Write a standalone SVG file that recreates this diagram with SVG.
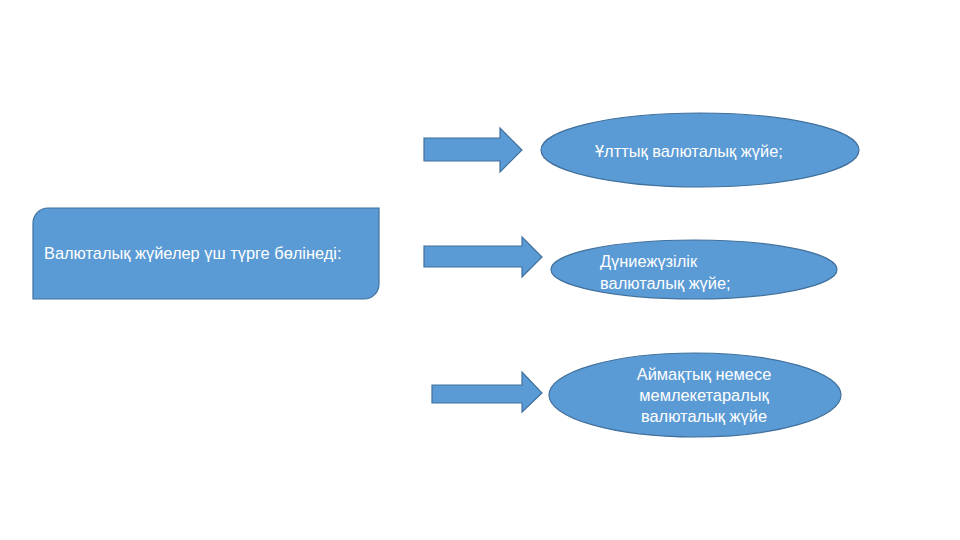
<svg xmlns="http://www.w3.org/2000/svg" width="960" height="540" viewBox="0 0 960 540">
<style>
.shape{fill:#5B9BD5;stroke:#41719C;stroke-width:1.2}
.t{fill:#FFFFFF;font-family:"Liberation Sans","Noto Sans",sans-serif;font-size:16.4px}
</style>
<rect width="960" height="540" fill="#FFFFFF"/>
<g id="main">
<path class="shape" d="M48,208 H379 V284 A15,15 0 0 1 364,299 H33 V223 A15,15 0 0 1 48,208 Z"/>
<text class="t" x="44" y="259">Валюталық жүйелер үш түрге бөлінеді:</text>
</g>
<g id="connectors">
<path class="shape" d="M424,138 H500 V128 L522,150 L500,172 V161 H424 Z"/>
<path class="shape" d="M424,246 H522 V237 L542,257 L522,277 V267 H424 Z"/>
<path class="shape" d="M432,385 H522 V372 L542,393 L522,412 V403 H432 Z"/>
</g>
<g id="node1">
<ellipse class="shape" cx="700" cy="150" rx="159" ry="37"/>
<text class="t" x="595" y="157">Ұлттық валюталық жүйе;</text>
</g>
<g id="node2">
<ellipse class="shape" cx="694" cy="269.5" rx="143" ry="29.5"/>
<text class="t" x="600" y="267">Дүниежүзілік</text>
<text class="t" x="600" y="289">валюталық жүйе;</text>
</g>
<g id="node3">
<ellipse class="shape" cx="695" cy="395" rx="146" ry="42"/>
<text class="t" text-anchor="middle" x="704" y="380">Аймақтық немесе</text>
<text class="t" text-anchor="middle" x="704" y="401">мемлекетаралық</text>
<text class="t" text-anchor="middle" x="704" y="422">валюталық жүйе</text>
</g>
</svg>
